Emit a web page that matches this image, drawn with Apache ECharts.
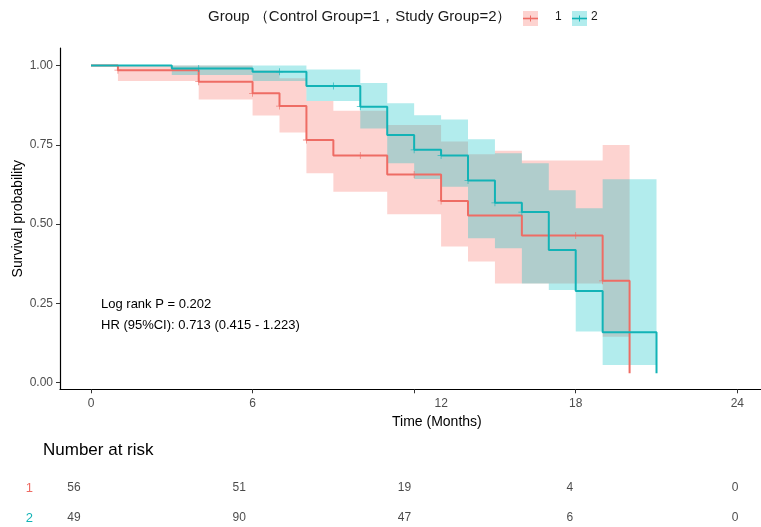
<!DOCTYPE html>
<html><head><meta charset="utf-8">
<script src="https://cdn.jsdelivr.net/npm/echarts@6/dist/echarts.min.js"></script>
<style>html,body{margin:0;padding:0;background:#fff}#c{width:761px;height:527px}</style>
</head><body><div id="c"></div><script>
const FONT = '"Liberation Sans", Arial, Helvetica, sans-serif';
const RED = '#EE6C64', TEAL = '#12B3B6';
const RED_FILL = 'rgba(248,118,109,0.32)', TEAL_FILL = 'rgba(0,191,196,0.30)';

// tick labels
const xTicks = [0, 6, 12, 18, 24];
const yTicks = [0, 0.25, 0.5, 0.75, 1];

// Group 1 (Control) KM steps
const timesRed = [0, 1, 4, 6, 7, 8, 9, 11, 13, 14, 16, 19, 20];
const survRed  = [1, 0.985, 0.949, 0.912, 0.872, 0.765, 0.716, 0.656, 0.573, 0.527, 0.464, 0.321, 0.03];
// Group 1 CI (interval starts/ends, lower, upper)
const bandRedT  = [0, 1, 4, 6, 7, 8, 9, 11, 13, 14, 15, 16, 19, 20];
const bandRedLo = [1, 0.951, 0.893, 0.842, 0.789, 0.660, 0.602, 0.531, 0.429, 0.382, 0.313, 0.313, 0.145];
const bandRedHi = [1, 1, 1, 0.985, 0.96, 0.888, 0.857, 0.812, 0.76, 0.72, 0.731, 0.70, 0.749];
const censorRedT = [1, 4, 6, 7, 8, 10, 12, 13, 18, 19];
const censorRedS = [0.985, 0.949, 0.912, 0.872, 0.765, 0.716, 0.656, 0.573, 0.464, 0.321];

// Group 2 (Study) KM steps
const timesTeal = [0, 3, 6, 8, 10, 11, 12, 13, 14, 15, 16, 17, 18, 19, 21];
const survTeal  = [1, 0.99, 0.98, 0.935, 0.870, 0.781, 0.734, 0.716, 0.637, 0.567, 0.538, 0.418, 0.289, 0.159, 0.03];
const bandTealT  = [0, 3, 6, 8, 10, 11, 12, 13, 14, 15, 16, 17, 18, 19, 21];
const bandTealLo = [1, 0.97, 0.951, 0.888, 0.801, 0.692, 0.642, 0.618, 0.455, 0.424, 0.313, 0.292, 0.161, 0.056];
const bandTealHi = [1, 1, 1, 0.987, 0.945, 0.881, 0.843, 0.830, 0.767, 0.723, 0.692, 0.607, 0.55, 0.641];
const censorTealT = [4, 7, 9, 10, 12, 13, 14, 15, 16];
const censorTealS = [0.99, 0.98, 0.935, 0.870, 0.734, 0.716, 0.637, 0.567, 0.538];

// Number at risk
const riskTimes = [0, 6, 12, 18, 24];
const riskRows = ['1', '2'];
const risk1 = [56, 51, 19, 4, 0];
const risk2 = [49, 90, 47, 6, 0];

const PLUS = 'path://M4,0L5,0L5,4L9,4L9,5L5,5L5,9L4,9L4,5L0,5L0,4L4,4Z';

function band(T, lo, hi, fill) {
  return {
    type: 'custom', xAxisIndex: 0, yAxisIndex: 0, silent: true, z: 1,
    data: lo.map((l, i) => [T[i], T[i + 1], l, hi[i]]),
    encode: { x: [0, 1], y: [2, 3] },
    renderItem: (params, api) => {
      if (params.dataIndex !== 0) return null;
      const up = [], dn = [];
      for (let i = 0; i < lo.length; i++) {
        up.push(api.coord([T[i], hi[i]]), api.coord([T[i + 1], hi[i]]));
        dn.push(api.coord([T[i], lo[i]]), api.coord([T[i + 1], lo[i]]));
      }
      return { type: 'polygon', shape: { points: up.concat(dn.reverse()) }, style: { fill: fill } };
    }
  };
}
function km(T, S, color, z) {
  return { type: 'line', xAxisIndex: 0, yAxisIndex: 0, step: 'end', symbol: 'none', silent: true, z: z,
    lineStyle: { color: color, width: 2 }, data: T.map((t, i) => [t, S[i]]) };
}
function cens(T, S, color, z) {
  return { type: 'scatter', xAxisIndex: 0, yAxisIndex: 0, symbol: PLUS, symbolSize: 7, silent: true, z: z,
    itemStyle: { color: color }, data: T.map((t, i) => [t, S[i]]) };
}
function riskSeries(vals, row) {
  return { type: 'scatter', xAxisIndex: 1, yAxisIndex: 1, symbolSize: 0.1, silent: true,
    itemStyle: { color: 'transparent' },
    label: { show: true, position: 'inside', formatter: p => String(p.value[2]), color: '#1a1a1a', fontSize: 12, fontFamily: FONT },
    data: riskTimes.map((t, i) => [t, row, vals[i]]) };
}

const chart = echarts.init(document.getElementById('c'), null, { renderer: 'canvas' });
chart.setOption({
  animation: false,
  backgroundColor: '#fff',
  textStyle: { fontFamily: FONT },
  grid: [
    { left: 60, right: 0, top: 48, bottom: 137.7, outerBoundsMode: 'none', containLabel: false },
    { left: 74, right: 26, top: 473, height: 60, outerBoundsMode: 'none', containLabel: false }
  ],
  xAxis: [
    { type: 'value', gridIndex: 0, min: -1.151, max: 24.88,
      axisLine: { show: true, onZero: false, lineStyle: { color: '#000', width: 1.2 } },
      axisTick: { show: true, customValues: xTicks, length: 4, lineStyle: { color: '#333' } },
      axisLabel: { customValues: xTicks, margin: 8, color: '#4D4D4D', fontSize: 12, fontFamily: FONT,
        formatter: v => v === 12 ? '{o|12}' : String(v),
        rich: { o: { padding: [0, 0, 0, 54], color: '#4D4D4D', fontSize: 12, fontFamily: FONT } } },
      splitLine: { show: false } },
    { type: 'value', gridIndex: 1, min: 0, max: 24, show: false }
  ],
  yAxis: [
    { type: 'value', gridIndex: 0, min: -0.0208, max: 1.055,
      name: 'Survival probability', nameLocation: 'middle', nameGap: 35, nameMoveOverlap: false,
      nameTextStyle: { color: '#000', fontSize: 14, fontFamily: FONT },
      axisLine: { show: true, onZero: false, lineStyle: { color: '#000', width: 1.2 } },
      axisTick: { show: true, customValues: yTicks, length: 4, lineStyle: { color: '#333' } },
      axisLabel: { customValues: yTicks, margin: 7, color: '#4D4D4D', fontSize: 12, fontFamily: FONT,
        formatter: v => v.toFixed(2) },
      splitLine: { show: false } },
    { type: 'category', gridIndex: 1, data: riskRows, inverse: true,
      axisLine: { show: false }, axisTick: { show: false },
      axisLabel: { margin: 41, fontSize: 13, fontFamily: FONT,
        formatter: v => '{g' + v + '|' + v + '}',
        rich: { g1: { color: RED, fontSize: 13, fontFamily: FONT }, g2: { color: TEAL, fontSize: 13, fontFamily: FONT } } } }
  ],
  graphic: [
    { type: 'text', left: 208, top: 9, style: { text: 'Group （Control Group=1，Study Group=2）', fill: '#1a1a1a', font: '15px ' + FONT } },
    { type: 'rect', shape: { x: 523, y: 11, width: 15, height: 15 }, style: { fill: RED_FILL } },
    { type: 'line', shape: { x1: 523, y1: 18.5, x2: 538, y2: 18.5 }, style: { stroke: RED, lineWidth: 1.6 } },
    { type: 'line', shape: { x1: 530.5, y1: 15.5, x2: 530.5, y2: 21.5 }, style: { stroke: RED, lineWidth: 1 } },
    { type: 'text', left: 555, top: 11, style: { text: '1', fill: '#1a1a1a', font: '12px ' + FONT } },
    { type: 'rect', shape: { x: 572, y: 11, width: 15, height: 15 }, style: { fill: TEAL_FILL } },
    { type: 'line', shape: { x1: 572, y1: 18.5, x2: 587, y2: 18.5 }, style: { stroke: TEAL, lineWidth: 1.6 } },
    { type: 'line', shape: { x1: 579.5, y1: 15.5, x2: 579.5, y2: 21.5 }, style: { stroke: TEAL, lineWidth: 1 } },
    { type: 'text', left: 591, top: 11, style: { text: '2', fill: '#1a1a1a', font: '12px ' + FONT } },
    { type: 'text', left: 101, top: 298, style: { text: 'Log rank P = 0.202', fill: '#000', font: '13px ' + FONT } },
    { type: 'text', left: 101, top: 319, style: { text: 'HR (95%CI): 0.713 (0.415 - 1.223)', fill: '#000', font: '13px ' + FONT } },
    { type: 'text', left: 392, top: 415, style: { text: 'Time (Months)', fill: '#000', font: '14px ' + FONT } },
    { type: 'text', left: 43, top: 442, style: { text: 'Number at risk', fill: '#000', font: '17px ' + FONT } }
  ],
  series: [
    band(bandRedT, bandRedLo, bandRedHi, RED_FILL),
    band(bandTealT, bandTealLo, bandTealHi, TEAL_FILL),
    km(timesRed, survRed, RED, 3),
    km(timesTeal, survTeal, TEAL, 4),
    cens(censorRedT, censorRedS, RED, 5),
    cens(censorTealT, censorTealS, TEAL, 6),
    riskSeries(risk1, '1'),
    riskSeries(risk2, '2')
  ]
});
</script></body></html>
